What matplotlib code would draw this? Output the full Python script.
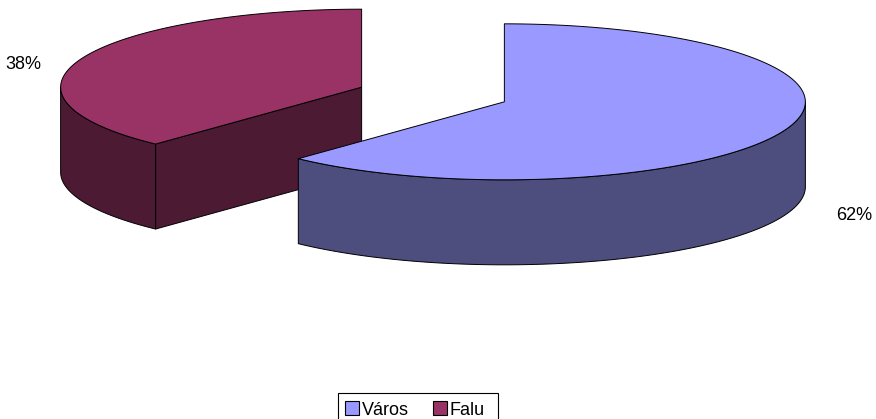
import numpy as np
import matplotlib
matplotlib.use("Agg")
import matplotlib.pyplot as plt
from matplotlib.patches import Polygon, Rectangle

plt.rcParams['font.family'] = ['Liberation Sans', 'DejaVu Sans']

# ---- data ----
categories = ["Város", "Falu"]
values = [62, 38]
top_colors = ["#9999FF", "#993366"]
side_colors = ["#4D4D7E", "#4D1A33"]
label_texts = ["62%", "38%"]

# ---- layout (pixel space) ----
W, H = 876, 419
cx0, cy0 = 433, 94.5
rx, ry, depth = 301, 78, 85
explode = 0.255
fs = 13
lw = 0.7

fig = plt.figure(figsize=(W / 100, H / 100), dpi=100)
ax = fig.add_axes([0, 0, 1, 1])
ax.set_xlim(0, W)
ax.set_ylim(H, 0)
ax.axis('off')


def pt(c, th):
    return (c[0] + rx * np.cos(th), c[1] - ry * np.sin(th))


def arc(c, a0, a1, n=120, dy=0):
    t = np.linspace(a0, a1, n)
    return np.column_stack([c[0] + rx * np.cos(t), c[1] - ry * np.sin(t) + dy])


total = float(sum(values))
start = np.pi / 2
slices = []
for i, v in enumerate(values):
    span = 2 * np.pi * v / total
    hi = start
    lo = start - span
    mid = (hi + lo) / 2
    c = (cx0 + explode * rx * np.cos(mid), cy0 - explode * ry * np.sin(mid))
    slices.append((i, lo, hi, mid, c))
    start = lo

# draw back slices first (Falu), then front (Város)
order = sorted(slices, key=lambda s: s[4][1])
for i, lo, hi, mid, c in order:
    # radial faces
    for a, nrm in ((lo, lo - np.pi / 2), (hi, hi + np.pi / 2)):
        if np.sin(nrm) < -1e-6:
            p = pt(c, a)
            poly = [c, p, (p[0], p[1] + depth), (c[0], c[1] + depth)]
            ax.add_patch(Polygon(poly, closed=True, facecolor=side_colors[i],
                                 edgecolor='black', lw=lw, joinstyle='round'))
    # curved side (front half only)
    for k in (-1, 0, 1):
        f0, f1 = -np.pi + 2 * np.pi * k, 0 + 2 * np.pi * k
        a0, a1 = max(lo, f0), min(hi, f1)
        if a1 > a0:
            upper = arc(c, a0, a1)
            lower = arc(c, a1, a0, dy=depth)
            poly = np.vstack([upper, lower])
            ax.add_patch(Polygon(poly, closed=True, facecolor=side_colors[i],
                                 edgecolor='black', lw=lw, joinstyle='round'))
    # top
    top = np.vstack([[c], arc(c, hi, lo)])
    ax.add_patch(Polygon(top, closed=True, facecolor=top_colors[i],
                         edgecolor='black', lw=lw, joinstyle='round'))

# labels
kx = 1.23
for i, lo, hi, mid, c in slices:
    x = c[0] + kx * rx * np.cos(mid) + 5.5
    y = c[1] - kx * ry * np.sin(mid) + depth * (0.15 + 2.1 * max(0.0, -np.sin(mid)))
    ax.text(x, y, label_texts[i], fontsize=fs, ha='center', va='center', color='black')

# legend (manual, Excel style)
ax.add_patch(Rectangle((338, 393), 160, 40, facecolor='white', edgecolor='black',
                       lw=0.8, clip_on=True))
leg_x = [345, 433]
for i, name in enumerate(categories):
    ax.add_patch(Rectangle((leg_x[i], 401), 14, 14, facecolor=top_colors[i],
                           edgecolor='black', lw=0.8))
    ax.text(leg_x[i] + 16.5, 415, name, fontsize=fs, ha='left', va='baseline', color='black')

fig.savefig("out.png", dpi=100, facecolor='white')
